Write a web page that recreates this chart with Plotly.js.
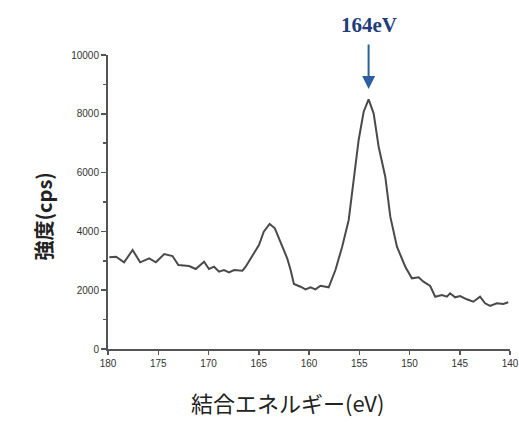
<!DOCTYPE html>
<html>
<head>
<meta charset="utf-8">
<script src="https://cdn.plot.ly/plotly-3.0.1.min.js"></script>
<style>html,body{margin:0;padding:0;background:#fff;}#chart{width:519px;height:431px;}</style>
</head>
<body>
<div id="chart"></div>
<script>
// Binding energy (axis units, reversed axis) and intensity (cps)
var bindingEnergy = [179.87, 179.2, 178.4, 177.55, 176.8, 175.9, 175.24, 174.4, 173.58, 173.0, 171.93, 171.27, 170.44, 169.95, 169.45, 168.95, 168.46, 167.96, 167.46, 166.63, 166.3, 165.8, 164.98, 164.5, 163.92, 163.4, 162.8, 162.17, 161.83, 161.5, 160.84, 160.35, 159.85, 159.36, 158.86, 158.04, 157.37, 156.7, 156.05, 155.55, 155.06, 154.56, 154.07, 153.57, 153.07, 152.41, 151.91, 151.25, 150.42, 149.76, 149.1, 148.61, 147.94, 147.44, 146.78, 146.28, 145.96, 145.46, 144.96, 144.3, 143.65, 142.98, 142.48, 141.98, 141.32, 140.67, 140.17];
var intensity = [3119, 3140, 2948, 3367, 2948, 3084, 2948, 3231, 3163, 2857, 2823, 2721, 2970, 2721, 2800, 2630, 2687, 2608, 2687, 2663, 2800, 3084, 3537, 3990, 4252, 4105, 3595, 3084, 2687, 2211, 2119, 2030, 2098, 2030, 2153, 2098, 2687, 3480, 4388, 5748, 7109, 8071, 8493, 8017, 6881, 5861, 4500, 3480, 2799, 2404, 2439, 2289, 2143, 1779, 1837, 1779, 1895, 1759, 1803, 1690, 1609, 1779, 1554, 1463, 1554, 1531, 1588];
var xTicks = [180, 175, 170, 165, 160, 155, 150, 145, 140];
var yTicks = [0, 2000, 4000, 6000, 8000, 10000];
var peakLabel = "164eV";
var peakX = 154.07;
var peakArrowY = 8840;
var xTitle = "結合エネルギー(eV)";
var yTitle = "強度(cps)";

var trace = {
  x: bindingEnergy,
  y: intensity,
  type: 'scatter',
  mode: 'lines',
  line: {color: '#4a4a4a', width: 2},
  hoverinfo: 'skip'
};

var tickFont = {family: 'Liberation Sans, Arial, sans-serif', size: 10, color: '#333'};

var layout = {
  width: 519,
  height: 431,
  margin: {l: 108, r: 9, t: 55, b: 82},
  paper_bgcolor: '#ffffff',
  plot_bgcolor: '#ffffff',
  showlegend: false,
  xaxis: {
    range: [180, 140],
    autorange: false,
    tickvals: xTicks,
    ticktext: xTicks.map(String),
    ticks: 'outside',
    ticklen: 4,
    tickwidth: 1.5,
    tickcolor: '#555',
    showline: true,
    linecolor: '#555',
    linewidth: 2,
    showgrid: false,
    zeroline: false,
    tickfont: tickFont,
    fixedrange: true
  },
  yaxis: {
    range: [0, 10000],
    autorange: false,
    tickvals: yTicks,
    ticktext: yTicks.map(String),
    ticks: 'outside',
    ticklen: 5,
    tickwidth: 1.5,
    tickcolor: '#555',
    minor: {dtick: 1000, tick0: 0, ticks: 'outside', ticklen: 3, tickwidth: 1.5, tickcolor: '#555', showgrid: false},
    showline: true,
    linecolor: '#555',
    linewidth: 2,
    showgrid: false,
    zeroline: false,
    tickfont: tickFont,
    fixedrange: true
  },
  annotations: [
    {
      x: peakX, y: peakArrowY, xref: 'x', yref: 'y',
      text: '', showarrow: true,
      ax: 0, ay: -46,
      arrowhead: 2, arrowsize: 1.3, arrowwidth: 2,
      arrowcolor: '#2f5e9e'
    },
    {
      x: peakX, y: 1.102, xref: 'x', yref: 'paper',
      text: peakLabel, showarrow: false,
      xanchor: 'center', yanchor: 'middle',
      font: {family: 'Liberation Serif, DejaVu Serif, serif', size: 21, color: '#1f3d7a', weight: 'bold'}
    },
    {
      x: 287, y: 420, xref: 'paper', yref: 'paper',
      text: xTitle, showarrow: false,
      font: {family: 'Noto Sans CJK JP, sans-serif', size: 22, color: '#222'}
    },
    {
      x: 27, y: 217, xref: 'paper', yref: 'paper',
      text: yTitle, showarrow: false, textangle: -90,
      font: {family: 'Noto Sans CJK JP, sans-serif', size: 20, color: '#222', weight: 'bold'}
    }
  ]
};

// convert pixel-located title annotations to paper coordinates
var plotW = 519 - 108 - 9, plotH = 431 - 55 - 82;
layout.annotations[2].x = (287 - 108) / plotW;
layout.annotations[2].y = (349 - 420) / plotH;
layout.annotations[3].x = (27 - 108) / plotW;
layout.annotations[3].y = (349 - 217) / plotH;

Plotly.newPlot('chart', [trace], layout, {staticPlot: true, displayModeBar: false});
</script>
</body>
</html>
